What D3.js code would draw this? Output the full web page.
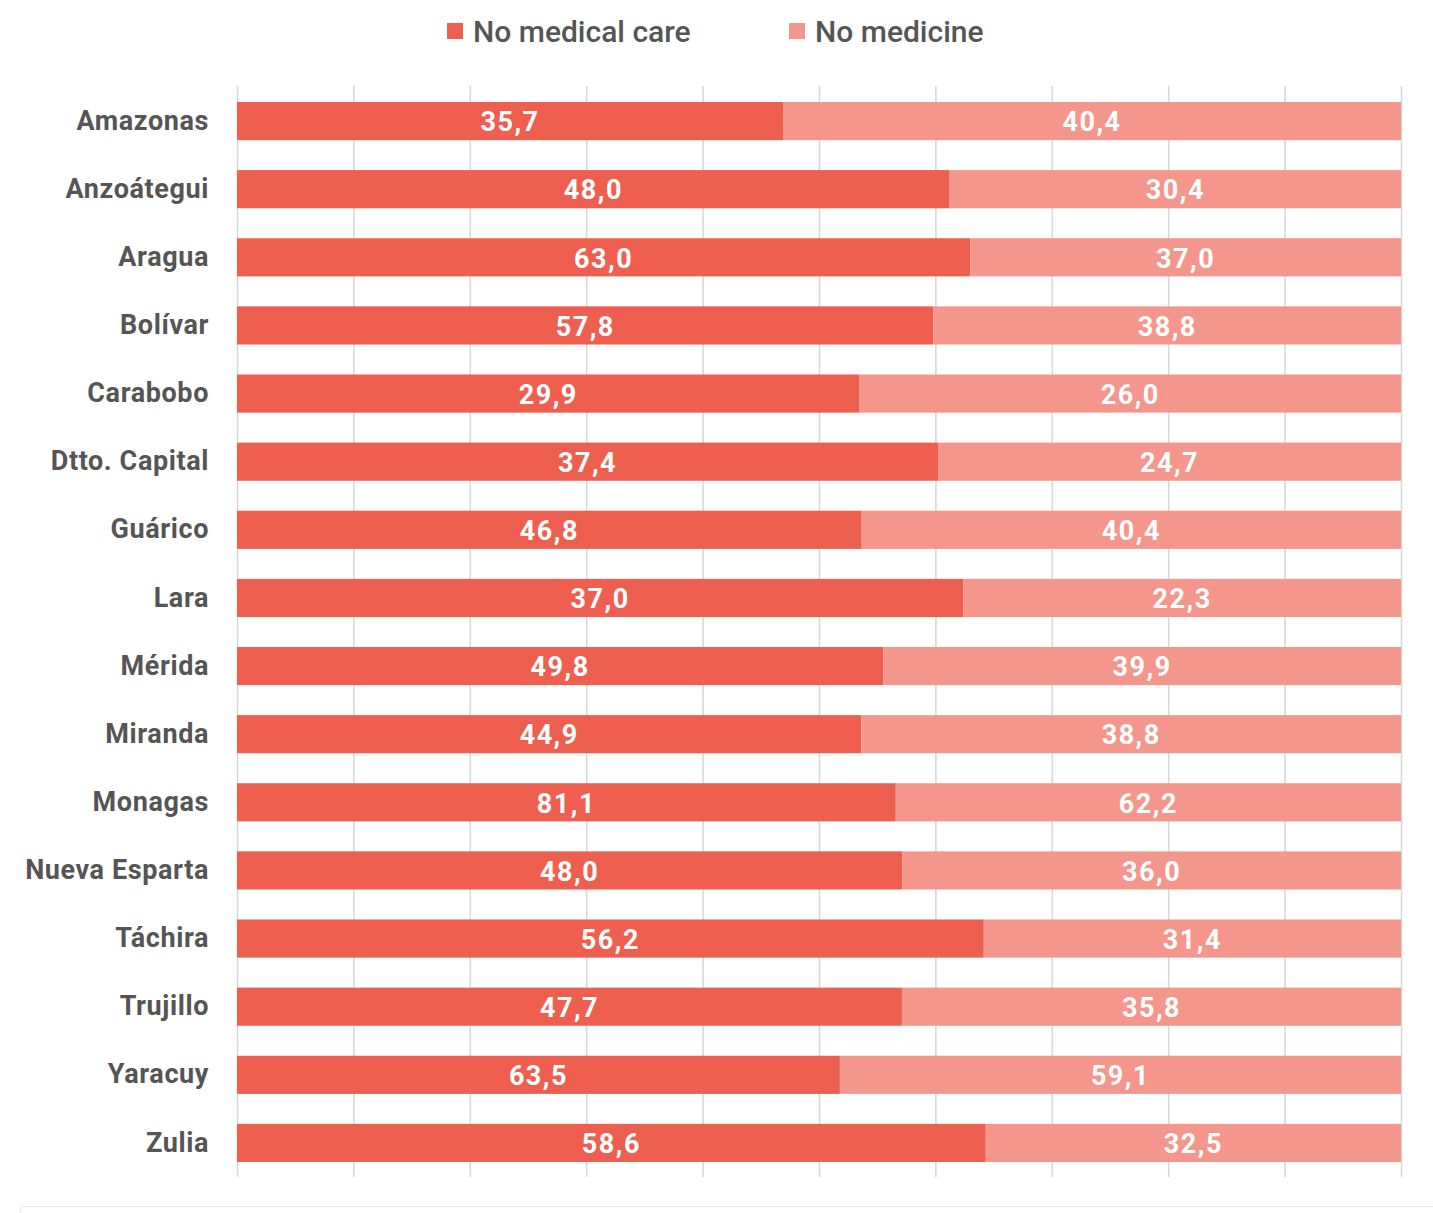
<!DOCTYPE html>
<html>
<head>
<meta charset="utf-8">
<script src="https://cdn.jsdelivr.net/npm/d3@7"></script>
<style>
  html, body { margin: 0; padding: 0; background: #fff; }
  svg { display: block; font-family: Roboto, "Noto Sans", sans-serif; }
</style>
</head>
<body>
<svg id="chart" width="1433" height="1213"></svg>
<script>
// States and the share of households reporting each shortfall
const categories = ["Amazonas", "Anzoátegui", "Aragua", "Bolívar", "Carabobo", "Dtto. Capital",
  "Guárico", "Lara", "Mérida", "Miranda", "Monagas", "Nueva Esparta", "Táchira", "Trujillo",
  "Yaracuy", "Zulia"];
const noMedicalCare = [35.7, 48.0, 63.0, 57.8, 29.9, 37.4, 46.8, 37.0, 49.8, 44.9, 81.1, 48.0, 56.2, 47.7, 63.5, 58.6];
const noMedicine = [40.4, 30.4, 37.0, 38.8, 26.0, 24.7, 40.4, 22.3, 39.9, 38.8, 62.2, 36.0, 31.4, 35.8, 59.1, 32.5];
const seriesNames = ["No medical care", "No medicine"];
const seriesKeys = ["care", "medicine"];
const colors = ["#EE5F50", "#F4968B"];

const svg = d3.select("#chart");
const plotLeft = 237, plotRight = 1401, plotTop = 87, plotBottom = 1177;

const rows = categories.map((c, i) => ({ state: c, care: noMedicalCare[i], medicine: noMedicine[i] }));
const stacked = d3.stack().keys(seriesKeys).offset(d3.stackOffsetExpand)(rows);

const x = d3.scaleLinear().domain([0, 1]).range([plotLeft, plotRight]);
const y = d3.scaleBand().domain(categories).range([plotTop, plotBottom]).paddingInner(0.44).paddingOuter(0.22);
const color = d3.scaleOrdinal().domain(seriesKeys).range(colors);
const fmt = v => d3.format(".1f")(v).replace(".", ",");

// Vertical gridlines at every 10%
const grid = svg.append("g")
  .attr("transform", `translate(0,${plotBottom})`)
  .call(d3.axisBottom(x).ticks(10).tickSize(-(plotBottom - plotTop + 1)).tickFormat(""));
grid.select(".domain").remove();
grid.selectAll(".tick line").attr("stroke", "#d9d9d9").attr("stroke-width", 1.6);

// Stacked segments
const layers = svg.append("g").selectAll("g")
  .data(stacked).join("g")
  .attr("fill", d => color(d.key));

layers.selectAll("rect")
  .data(d => d.map(p => ({ p, key: d.key })))
  .join("rect")
  .attr("x", d => x(d.p[0]))
  .attr("y", d => y(d.p.data.state))
  .attr("width", d => x(d.p[1]) - x(d.p[0]))
  .attr("height", y.bandwidth());

// Value labels centred in each segment
layers.selectAll("text")
  .data(d => d.map(p => ({ p, key: d.key })))
  .join("text")
  .attr("x", d => (x(d.p[0]) + x(d.p[1])) / 2)
  .attr("y", d => y(d.p.data.state) + y.bandwidth() / 2)
  .attr("dy", "0.38em")
  .attr("text-anchor", "middle")
  .attr("fill", "#fff")
  .attr("font-weight", 700)
  .attr("font-size", 27)
  .attr("letter-spacing", 1.5)
  .text(d => fmt(d.p.data[d.key]));

// Category labels
const yAxis = svg.append("g")
  .attr("transform", `translate(${plotLeft},0)`)
  .call(d3.axisLeft(y).tickSize(0).tickPadding(28));
yAxis.select(".domain").remove();
yAxis.selectAll("text")
  .attr("fill", "#555")
  .attr("font-weight", 700)
  .attr("font-size", 27)
  .attr("letter-spacing", 0.6)
  .attr("font-family", "Roboto, sans-serif");

// Legend
const legendX = [447, 789];
const legend = svg.append("g").selectAll("g")
  .data(seriesKeys).join("g")
  .attr("transform", (d, i) => `translate(${legendX[i]},23)`);
legend.append("rect").attr("width", 16).attr("height", 16).attr("fill", d => color(d));
legend.append("text")
  .attr("x", 26).attr("y", 8).attr("dy", "0.36em")
  .attr("fill", "#555")
  .attr("font-weight", 500)
  .attr("font-size", 30)
  .text((d, i) => seriesNames[i]);

// Frame edge along the bottom
svg.append("path")
  .attr("d", "M20.5,1213 V1206.5 H1433")
  .attr("fill", "none")
  .attr("stroke", "#ebebeb")
  .attr("stroke-width", 1);
</script>
</body>
</html>
